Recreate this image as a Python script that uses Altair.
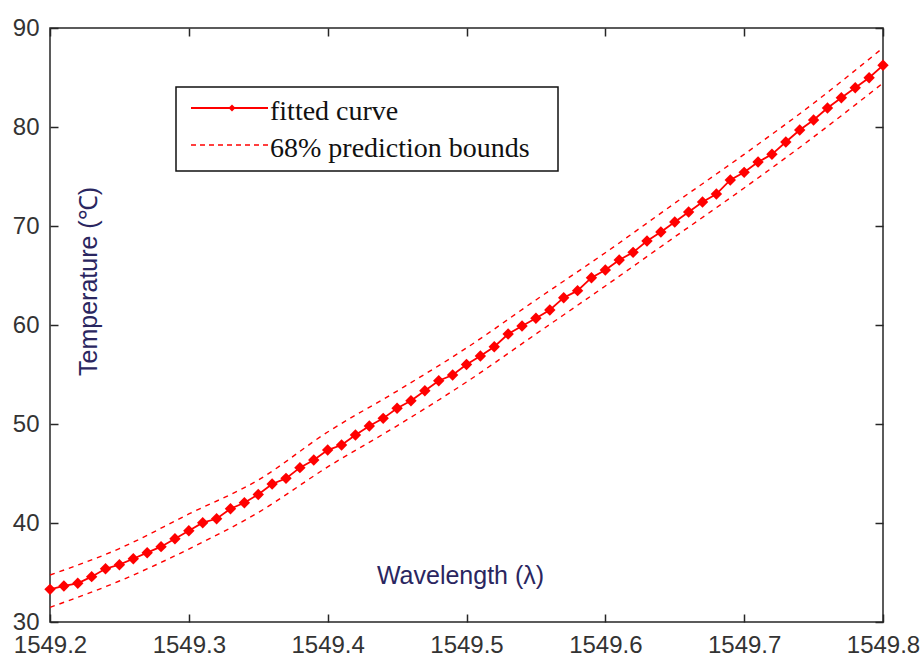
import altair as alt
import pandas as pd

# Fitted temperature curve sampled every 0.01 nm
wavelength = [
    1549.20, 1549.21, 1549.22, 1549.23, 1549.24, 1549.25, 1549.26, 1549.27, 1549.28, 1549.29,
    1549.30, 1549.31, 1549.32, 1549.33, 1549.34, 1549.35, 1549.36, 1549.37, 1549.38, 1549.39,
    1549.40, 1549.41, 1549.42, 1549.43, 1549.44, 1549.45, 1549.46, 1549.47, 1549.48, 1549.49,
    1549.50, 1549.51, 1549.52, 1549.53, 1549.54, 1549.55, 1549.56, 1549.57, 1549.58, 1549.59,
    1549.60, 1549.61, 1549.62, 1549.63, 1549.64, 1549.65, 1549.66, 1549.67, 1549.68, 1549.69,
    1549.70, 1549.71, 1549.72, 1549.73, 1549.74, 1549.75, 1549.76, 1549.77, 1549.78, 1549.79,
    1549.80,
]
temperature = [
    33.30, 33.64, 33.91, 34.58, 35.38, 35.79, 36.39, 37.00, 37.61, 38.41,
    39.22, 40.03, 40.43, 41.44, 42.05, 42.88, 43.94, 44.51, 45.59, 46.36,
    47.37, 47.88, 48.89, 49.80, 50.57, 51.59, 52.35, 53.36, 54.37, 54.95,
    56.01, 56.87, 57.81, 59.09, 59.90, 60.68, 61.52, 62.76, 63.47, 64.78,
    65.56, 66.57, 67.34, 68.48, 69.40, 70.40, 71.41, 72.42, 73.23, 74.65,
    75.42, 76.46, 77.24, 78.48, 79.70, 80.71, 81.92, 82.96, 83.97, 84.98,
    86.23,
]

# 68% prediction bounds
bound_wavelength = [1549.20, 1549.25, 1549.30, 1549.35, 1549.40, 1549.45, 1549.50,
                    1549.55, 1549.60, 1549.65, 1549.70, 1549.75, 1549.80]
upper_bound = [34.75, 37.42, 40.91, 44.34, 49.19, 53.33, 57.68,
               62.53, 67.30, 72.30, 77.24, 82.40, 88.00]
lower_bound = [31.48, 34.14, 37.37, 41.06, 45.66, 49.82, 54.24,
               59.09, 63.94, 68.90, 73.84, 78.99, 84.44]

x_ticks = [1549.2, 1549.3, 1549.4, 1549.5, 1549.6, 1549.7, 1549.8]
y_ticks = [30, 40, 50, 60, 70, 80, 90]
legend_labels = ["fitted curve", "68% prediction bounds"]

RED = "#ff0000"
AXIS = "#262626"
TITLE = "#2a2660"
W, H = 833, 594

curve = pd.DataFrame({"wl": wavelength, "t": temperature})
upper = pd.DataFrame({"wl": bound_wavelength, "t": upper_bound})
lower = pd.DataFrame({"wl": bound_wavelength, "t": lower_bound})

xs = alt.Scale(domain=[1549.2, 1549.8], nice=False, zero=False)
ys = alt.Scale(domain=[30, 90], nice=False, zero=False)


def label_axis(orient, title, **kw):
    return alt.Axis(
        orient=orient, values=x_ticks if orient == "bottom" else y_ticks,
        format=".1f" if orient == "bottom" else "d",
        ticks=False, domain=False, grid=False, labelFlush=False, labelOverlap=False,
        labelFont="Liberation Sans", labelFontSize=24, labelColor="#333333",
        labelPadding=11, title=title, titleFont="Liberation Sans", titleFontSize=25,
        titleFontWeight="normal", titleColor=TITLE, titleAlign="center",
        titleBaseline="middle", **kw,
    )


def tick_axis(orient):
    # inward ticks: pull the axis inside the frame and let ticks reach the edge
    return alt.Axis(
        orient=orient, values=x_ticks if orient in ("bottom", "top") else y_ticks,
        labels=False, domain=False, grid=False, title=None,
        ticks=True, tickSize=8, tickWidth=1.5, tickColor=AXIS, offset=-8,
    )


upper_line = alt.Chart(upper).mark_line(
    color=RED, strokeWidth=1.4, strokeDash=[5, 5], interpolate="monotone"
).encode(
    x=alt.X("wl:Q", scale=xs,
            axis=label_axis("bottom", "Wavelength (λ)", titleX=410, titleY=-47, titleAngle=0)),
    y=alt.Y("t:Q", scale=ys,
            axis=label_axis("left", "Temperature (℃)", titleX=38, titleY=253, titleAngle=270)),
)

lower_line = alt.Chart(lower).mark_line(
    color=RED, strokeWidth=1.4, strokeDash=[5, 5], interpolate="monotone"
).encode(
    x=alt.X("wl:Q", scale=xs, axis=tick_axis("bottom")),
    y=alt.Y("t:Q", scale=ys, axis=tick_axis("left")),
)

fit_line = alt.Chart(curve).mark_line(color=RED, strokeWidth=1.8).encode(
    x=alt.X("wl:Q", scale=xs, axis=tick_axis("top")),
    y=alt.Y("t:Q", scale=ys, axis=tick_axis("right")),
)

fit_points = alt.Chart(curve).mark_point(
    shape="diamond", filled=True, color=RED, size=130, opacity=1
).encode(
    x=alt.X("wl:Q", scale=xs, axis=None),
    y=alt.Y("t:Q", scale=ys, axis=None),
)

# Legend box drawn in plot pixel space
one = alt.Data(values=[{"k": 0}])
legend_box = alt.Chart(one).mark_rect(
    fill="white", stroke="#111111", strokeWidth=1.5
).encode(x=alt.value(126), x2=alt.value(508), y=alt.value(59), y2=alt.value(143))

legend_solid = alt.Chart(one).mark_rule(color=RED, strokeWidth=1.8).encode(
    x=alt.value(141), x2=alt.value(218), y=alt.value(80)
)
legend_marker = alt.Chart(one).mark_point(
    shape="diamond", filled=True, color=RED, size=50, opacity=1
).encode(x=alt.value(182), y=alt.value(80))
legend_dash = alt.Chart(one).mark_rule(
    color=RED, strokeWidth=1.4, strokeDash=[5, 4]
).encode(x=alt.value(141), x2=alt.value(218), y=alt.value(117))

legend_text1 = alt.Chart(alt.Data(values=[{"label": legend_labels[0]}])).mark_text(
    font="Liberation Serif", fontSize=28, color="#111111", align="left", baseline="alphabetic"
).encode(x=alt.value(220), y=alt.value(92), text="label:N")
legend_text2 = alt.Chart(alt.Data(values=[{"label": legend_labels[1]}])).mark_text(
    font="Liberation Serif", fontSize=28, color="#111111", align="left", baseline="alphabetic"
).encode(x=alt.value(220), y=alt.value(129), text="label:N")

chart = alt.layer(
    upper_line, lower_line, fit_line, fit_points,
    legend_box, legend_solid, legend_marker, legend_dash, legend_text1, legend_text2,
).resolve_axis(
    x="independent", y="independent"
).properties(
    width=W, height=H,
    autosize=alt.AutoSizeParams(type="none"),
    padding={"left": 50, "top": 28, "right": 40, "bottom": 33},
    background="white",
).configure_view(
    stroke=AXIS, strokeWidth=1.5
)

chart.save("out.html", embed_options={"renderer": "svg", "actions": False})
